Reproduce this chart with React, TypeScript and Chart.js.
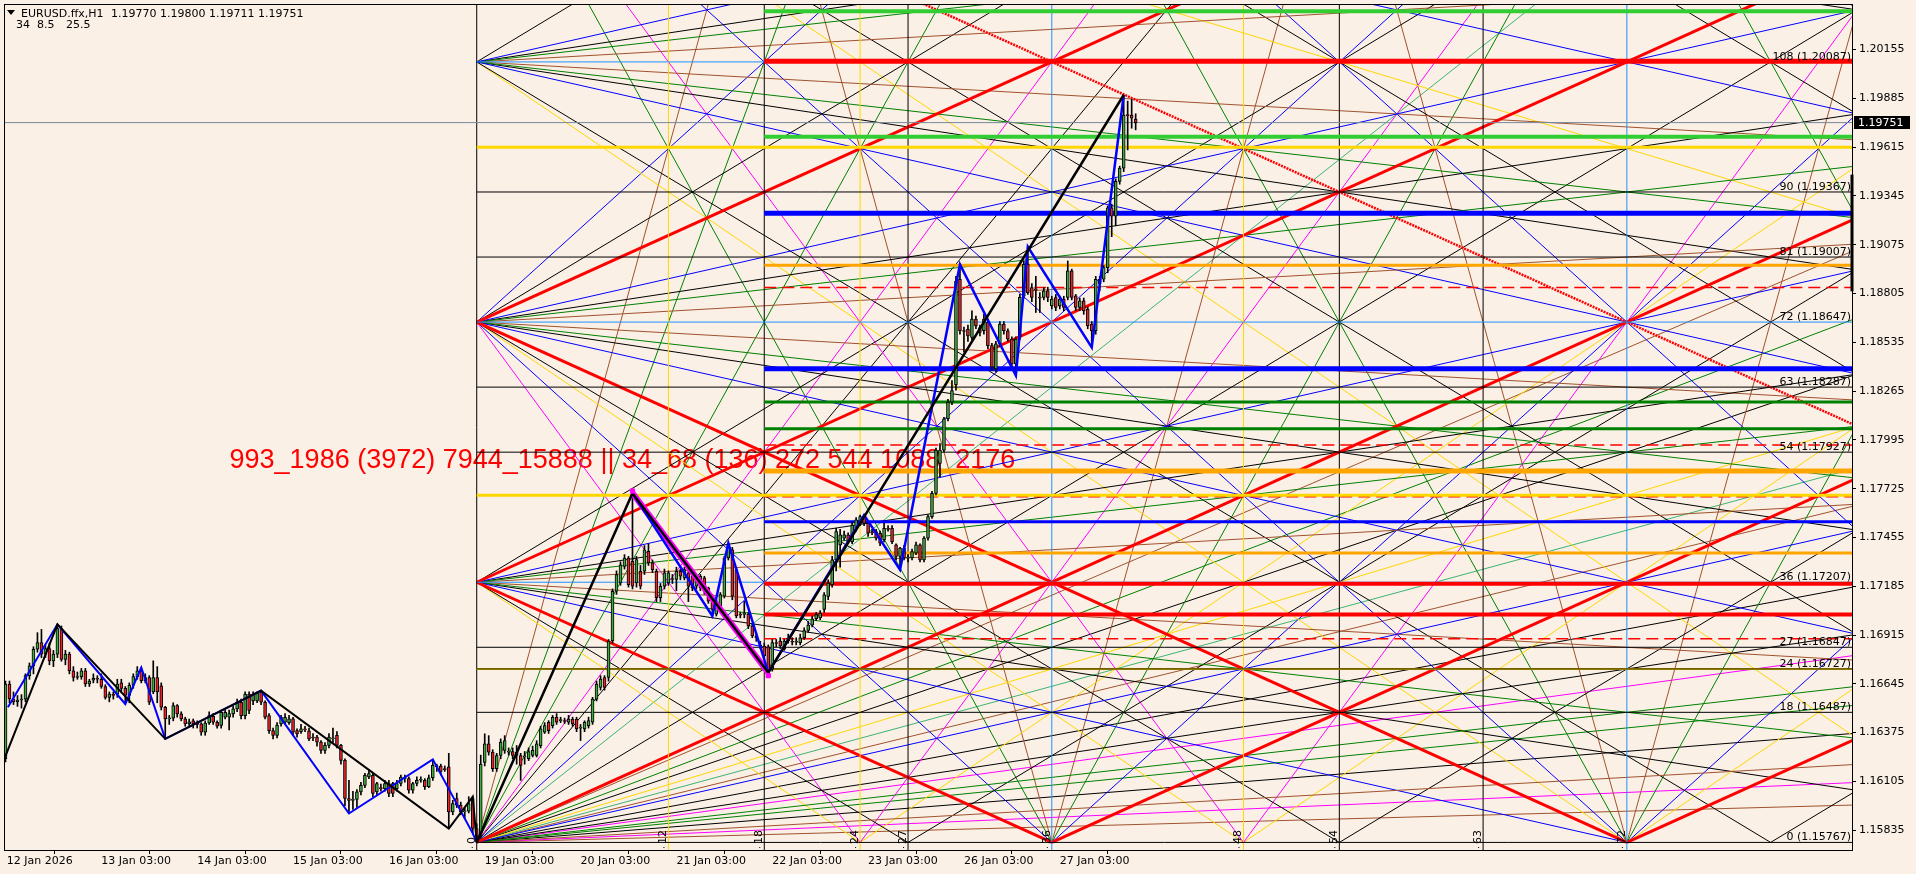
import React, { useEffect, useRef } from "react";
import { Chart, registerables } from "chart.js";
Chart.register(...registerables);

// ---------- candle data (H1 bars, index 0 = first visible bar) ----------
const opens = [1.16230,1.16644,1.16561,1.16545,1.16555,1.16560,1.16690,1.16745,1.16836,1.16873,
1.16809,1.16840,1.16772,1.16809,1.16950,1.16780,1.16809,1.16717,1.16680,1.16685,
1.16717,1.16644,1.16665,1.16675,1.16670,1.16630,1.16570,1.16588,1.16588,1.16650,
1.16620,1.16580,1.16637,1.16685,1.16717,1.16662,1.16680,1.16600,1.16680,1.16634,
1.16515,1.16451,1.16455,1.16524,1.16478,1.16451,1.16423,1.16440,1.16423,1.16423,
1.16377,1.16428,1.16465,1.16432,1.16414,1.16460,1.16460,1.16478,1.16506,1.16543,
1.16469,1.16588,1.16550,1.16550,1.16597,1.16543,1.16469,1.16386,1.16359,1.16423,
1.16432,1.16430,1.16451,1.16386,1.16380,1.16396,1.16385,1.16350,1.16350,1.16322,
1.16276,1.16304,1.16340,1.16360,1.16304,1.16221,1.16010,1.16000,1.16005,1.16047,
1.16083,1.16129,1.16138,1.16047,1.16070,1.16065,1.16093,1.16093,1.16065,1.16093,
1.16120,1.16120,1.16056,1.16093,1.16111,1.16111,1.16075,1.16125,1.16185,1.16190,
1.16175,1.16185,1.15936,1.16010,1.15973,1.15936,1.15940,1.16010,1.15844,1.15800,
1.16210,1.16312,1.16267,1.16175,1.16248,1.16276,1.16267,1.16270,1.16248,1.16248,
1.16240,1.16230,1.16248,1.16248,1.16303,1.16377,1.16432,1.16413,1.16459,1.16441,
1.16441,1.16432,1.16450,1.16450,1.16400,1.16395,1.16413,1.16432,1.16560,1.16625,
1.16680,1.16680,1.16882,1.17157,1.17203,1.17295,1.17341,1.17323,1.17203,1.17268,
1.17268,1.17378,1.17314,1.17268,1.17121,1.17185,1.17203,1.17222,1.17222,1.17268,
1.17231,1.17259,1.17240,1.17185,1.17176,1.17231,1.17176,1.17130,1.17030,1.17075,
1.17130,1.17341,1.17387,1.17277,1.17029,1.17029,1.17029,1.16965,1.16910,1.16860,
1.16854,1.16850,1.16726,1.16873,1.16882,1.16836,1.16882,1.16880,1.16875,1.16873,
1.16900,1.16940,1.16970,1.17005,1.17010,1.17056,1.17129,1.17194,1.17331,1.17414,
1.17451,1.17469,1.17432,1.17506,1.17533,1.17570,1.17533,1.17488,1.17488,1.17478,
1.17442,1.17506,1.17506,1.17414,1.17350,1.17396,1.17341,1.17341,1.17368,1.17414,
1.17331,1.17451,1.17570,1.17699,1.17864,1.17938,1.18112,1.18204,1.18300,1.18884,
1.18599,1.18608,1.18562,1.18663,1.18617,1.18599,1.18645,1.18517,1.18388,1.18526,
1.18636,1.18599,1.18553,1.18416,1.18563,1.18792,1.18966,1.18838,1.18829,1.18783,
1.18783,1.18820,1.18737,1.18783,1.18737,1.18774,1.18783,1.18930,1.18792,1.18728,
1.18765,1.18719,1.18636,1.18599,1.18860,1.18884,1.18948,1.19279,1.19233,1.19426,
1.19499,1.19793,1.19793,1.19770];
const highs = [1.16660,1.16660,1.16600,1.16580,1.16585,1.16700,1.16760,1.16850,1.16928,1.16946,
1.16860,1.16870,1.16830,1.16974,1.16965,1.16830,1.16820,1.16740,1.16710,1.16730,
1.16730,1.16670,1.16700,1.16690,1.16700,1.16640,1.16600,1.16600,1.16670,1.16670,
1.16630,1.16650,1.16700,1.16740,1.16735,1.16700,1.16690,1.16772,1.16740,1.16650,
1.16520,1.16470,1.16540,1.16530,1.16490,1.16460,1.16450,1.16450,1.16440,1.16430,
1.16440,1.16490,1.16480,1.16440,1.16500,1.16500,1.16500,1.16520,1.16560,1.16560,
1.16600,1.16600,1.16600,1.16600,1.16607,1.16550,1.16480,1.16400,1.16430,1.16470,
1.16480,1.16470,1.16460,1.16395,1.16420,1.16410,1.16400,1.16370,1.16360,1.16330,
1.16320,1.16370,1.16400,1.16380,1.16310,1.16230,1.16111,1.16050,1.16060,1.16100,
1.16150,1.16170,1.16150,1.16100,1.16090,1.16110,1.16110,1.16100,1.16110,1.16140,
1.16140,1.16130,1.16100,1.16130,1.16130,1.16120,1.16140,1.16227,1.16200,1.16200,
1.16190,1.16260,1.16000,1.16040,1.15990,1.15960,1.16020,1.16020,1.15870,1.16250,
1.16368,1.16358,1.16280,1.16260,1.16340,1.16358,1.16290,1.16290,1.16303,1.16260,
1.16270,1.16290,1.16300,1.16330,1.16410,1.16430,1.16441,1.16470,1.16480,1.16460,
1.16455,1.16470,1.16460,1.16460,1.16420,1.16440,1.16460,1.16570,1.16660,1.16690,
1.16690,1.16890,1.17170,1.17270,1.17320,1.17360,1.17350,1.17700,1.17350,1.17300,
1.17410,1.17420,1.17330,1.17280,1.17200,1.17280,1.17270,1.17250,1.17290,1.17280,
1.17290,1.17270,1.17250,1.17240,1.17250,1.17240,1.17180,1.17140,1.17110,1.17150,
1.17350,1.17424,1.17400,1.17290,1.17040,1.17102,1.17040,1.16975,1.16930,1.16880,
1.16870,1.16860,1.16890,1.16890,1.16900,1.16890,1.16920,1.16900,1.16900,1.16920,
1.16955,1.16990,1.17020,1.17040,1.17050,1.17150,1.17220,1.17350,1.17506,1.17500,
1.17490,1.17480,1.17540,1.17565,1.17579,1.17579,1.17545,1.17500,1.17500,1.17490,
1.17533,1.17520,1.17520,1.17420,1.17400,1.17410,1.17360,1.17390,1.17430,1.17420,
1.17460,1.17580,1.17710,1.17950,1.17975,1.18120,1.18220,1.18323,1.18900,1.18966,
1.18620,1.18630,1.18709,1.18680,1.18630,1.18690,1.18660,1.18530,1.18540,1.18650,
1.18650,1.18610,1.18565,1.18565,1.18800,1.18985,1.19064,1.18860,1.18900,1.18810,
1.18838,1.18840,1.18790,1.18800,1.18790,1.18790,1.18985,1.18940,1.18800,1.18780,
1.18780,1.18730,1.18650,1.18900,1.18900,1.18960,1.19290,1.19300,1.19440,1.19510,
1.19904,1.19870,1.19880,1.19800];
const lows = [1.16212,1.16540,1.16530,1.16520,1.16510,1.16545,1.16670,1.16700,1.16820,1.16790,
1.16790,1.16750,1.16740,1.16790,1.16770,1.16750,1.16700,1.16660,1.16670,1.16670,
1.16630,1.16630,1.16650,1.16650,1.16620,1.16560,1.16545,1.16560,1.16570,1.16600,
1.16533,1.16540,1.16620,1.16670,1.16650,1.16650,1.16530,1.16590,1.16540,1.16500,
1.16340,1.16420,1.16440,1.16460,1.16440,1.16410,1.16410,1.16400,1.16400,1.16360,
1.16360,1.16420,1.16420,1.16400,1.16400,1.16450,1.16390,1.16460,1.16490,1.16450,
1.16450,1.16480,1.16530,1.16540,1.16530,1.16450,1.16370,1.16340,1.16345,1.16410,
1.16420,1.16420,1.16360,1.16350,1.16370,1.16380,1.16330,1.16330,1.16300,1.16260,
1.16260,1.16290,1.16320,1.16290,1.16200,1.15970,1.15927,1.15950,1.15960,1.16030,
1.16070,1.16120,1.16020,1.16030,1.16050,1.16050,1.16020,1.16020,1.16050,1.16080,
1.16100,1.16040,1.16040,1.16080,1.16100,1.16060,1.16070,1.16110,1.16160,1.16140,
1.16160,1.15844,1.15920,1.15960,1.15920,1.15900,1.15930,1.15817,1.15767,1.15790,
1.16190,1.16250,1.16160,1.16160,1.16230,1.16260,1.16250,1.16230,1.16200,1.16110,
1.16200,1.16220,1.16240,1.16240,1.16290,1.16370,1.16370,1.16400,1.16420,1.16430,
1.16425,1.16420,1.16410,1.16380,1.16331,1.16380,1.16400,1.16420,1.16550,1.16610,
1.16610,1.16660,1.16870,1.17140,1.17190,1.17280,1.17180,1.17170,1.17180,1.17170,
1.17250,1.17300,1.17260,1.17100,1.17100,1.17170,1.17190,1.17200,1.17160,1.17220,
1.17220,1.17100,1.17160,1.17170,1.17160,1.17140,1.17090,1.17020,1.17020,1.17060,
1.17120,1.17330,1.17110,1.17010,1.17010,1.17010,1.16950,1.16900,1.16880,1.16840,
1.16780,1.16707,1.16715,1.16850,1.16840,1.16830,1.16870,1.16860,1.16860,1.16860,
1.16890,1.16930,1.16960,1.16995,1.17000,1.17040,1.17110,1.17180,1.17270,1.17290,
1.17440,1.17420,1.17420,1.17490,1.17520,1.17520,1.17460,1.17470,1.17440,1.17410,
1.17430,1.17490,1.17420,1.17330,1.17276,1.17330,1.17320,1.17330,1.17360,1.17320,
1.17320,1.17440,1.17560,1.17690,1.17790,1.17930,1.18100,1.18190,1.18270,1.18580,
1.18480,1.18540,1.18550,1.18610,1.18570,1.18580,1.18500,1.18380,1.18370,1.18510,
1.18580,1.18540,1.18400,1.18351,1.18550,1.18780,1.18800,1.18760,1.18700,1.18700,
1.18770,1.18760,1.18720,1.18710,1.18720,1.18710,1.18770,1.18770,1.18710,1.18710,
1.18690,1.18610,1.18507,1.18580,1.18820,1.18870,1.18920,1.19120,1.19180,1.19410,
1.19480,1.19600,1.19720,1.19711];
const closes = [1.16644,1.16561,1.16545,1.16555,1.16560,1.16690,1.16745,1.16836,1.16873,1.16809,
1.16840,1.16772,1.16809,1.16950,1.16780,1.16809,1.16717,1.16680,1.16685,1.16717,
1.16644,1.16660,1.16675,1.16670,1.16630,1.16570,1.16588,1.16580,1.16644,1.16620,
1.16580,1.16637,1.16685,1.16717,1.16662,1.16680,1.16543,1.16680,1.16600,1.16515,
1.16451,1.16455,1.16524,1.16478,1.16451,1.16423,1.16435,1.16423,1.16420,1.16377,
1.16428,1.16469,1.16432,1.16410,1.16487,1.16487,1.16480,1.16506,1.16543,1.16469,
1.16588,1.16497,1.16588,1.16592,1.16543,1.16460,1.16386,1.16359,1.16417,1.16460,
1.16460,1.16451,1.16377,1.16368,1.16396,1.16390,1.16340,1.16345,1.16322,1.16276,
1.16304,1.16350,1.16345,1.16304,1.16221,1.16010,1.16000,1.16005,1.16047,1.16083,
1.16138,1.16148,1.16038,1.16093,1.16065,1.16093,1.16038,1.16038,1.16093,1.16129,
1.16125,1.16056,1.16093,1.16111,1.16115,1.16075,1.16125,1.16194,1.16190,1.16160,
1.16170,1.15936,1.15982,1.15973,1.15936,1.15940,1.15982,1.15844,1.15800,1.16200,
1.16312,1.16267,1.16175,1.16248,1.16322,1.16331,1.16270,1.16248,1.16267,1.16193,
1.16245,1.16270,1.16276,1.16312,1.16395,1.16413,1.16386,1.16459,1.16432,1.16445,
1.16436,1.16450,1.16423,1.16395,1.16405,1.16432,1.16441,1.16560,1.16643,1.16671,
1.16625,1.16882,1.17157,1.17249,1.17304,1.17341,1.17194,1.17185,1.17332,1.17185,
1.17387,1.17314,1.17277,1.17121,1.17185,1.17259,1.17259,1.17226,1.17268,1.17240,
1.17277,1.17185,1.17176,1.17222,1.17240,1.17157,1.17102,1.17056,1.17102,1.17139,
1.17341,1.17414,1.17130,1.17020,1.17025,1.17033,1.16965,1.16910,1.16900,1.16854,
1.16799,1.16726,1.16873,1.16868,1.16854,1.16882,1.16900,1.16875,1.16880,1.16900,
1.16940,1.16970,1.17005,1.17028,1.17037,1.17138,1.17203,1.17331,1.17488,1.17469,
1.17469,1.17432,1.17524,1.17552,1.17570,1.17533,1.17478,1.17480,1.17451,1.17423,
1.17506,1.17500,1.17432,1.17350,1.17396,1.17341,1.17345,1.17377,1.17414,1.17331,
1.17451,1.17570,1.17699,1.17938,1.17938,1.18112,1.18204,1.18268,1.18874,1.18599,
1.18595,1.18571,1.18663,1.18626,1.18590,1.18663,1.18516,1.18397,1.18526,1.18636,
1.18599,1.18553,1.18416,1.18553,1.18784,1.18966,1.18810,1.18783,1.18825,1.18780,
1.18820,1.18783,1.18774,1.18728,1.18774,1.18728,1.18930,1.18783,1.18728,1.18765,
1.18709,1.18627,1.18599,1.18884,1.18884,1.18948,1.19279,1.19233,1.19426,1.19499,
1.19793,1.19790,1.19775,1.19751];

// ---------- axes ----------
const dayTickBars = [0.3, 24, 48, 72, 96, 120, 144, 168, 192, 216, 240, 264];
const dayTickLabels = ["12 Jan 2026", "13 Jan 03:00", "14 Jan 03:00", "15 Jan 03:00", "16 Jan 03:00",
  "19 Jan 03:00", "20 Jan 03:00", "21 Jan 03:00", "22 Jan 03:00", "23 Jan 03:00", "26 Jan 03:00", "27 Jan 03:00"];
const priceTicks = [1.15835, 1.16105, 1.16375, 1.16645, 1.16915, 1.17185, 1.17455, 1.17725, 1.17995,
  1.18265, 1.18535, 1.18805, 1.19075, 1.19345, 1.19615, 1.19885, 1.20155];

// ---------- Gann grid definition ----------
const gannOriginBar = 118;
const gannBarsPerUnit = 4;
const gannOriginPrice = 1.15767;
const gannPricePerUnit = 0.0004;
const levelUnits = [0, 18, 24, 27, 36, 54, 63, 72, 81, 90, 108];
const levelColors = ["#000", "#000", "#000", "#000", "#1E90FF", "#000", "#000", "#1E90FF", "#000", "#000", "#1E90FF"];
const timeUnits = [0, 12, 18, 24, 27, 36, 48, 54, 63, 72];
const timeColors = ["#000", "#FFD700", "#000", "#FFD700", "#000", "#1E90FF", "#FFD700", "#000", "#000", "#1E90FF"];

// thick horizontal levels
const hPrices = [1.20367, 1.20090, 1.19673, 1.19614, 1.19249, 1.18961, 1.18839, 1.18388, 1.18204, 1.18057,
  1.17967, 1.17823, 1.17689, 1.17680, 1.17542, 1.17369, 1.17198, 1.17028, 1.16894, 1.16727];
const hColors = ["#32CD32", "#FF0000", "#32CD32", "#FFD700", "#0000FF", "#FFA500", "#FF0000", "#0000FF", "#008000", "#008000",
  "#FF0000", "#FFA500", "#FFD700", "#FF0000", "#0000FF", "#FFA500", "#FF0000", "#FF0000", "#FF0000", "#FFD700"];
const hWidths = [4, 5, 4, 3, 5, 3, 1.5, 5, 3, 3, 1.5, 5, 3, 1.5, 3, 3, 4, 4, 1.5, 2];
const hDashed = [0, 0, 0, 0, 0, 0, 1, 0, 0, 0, 1, 0, 0, 1, 0, 0, 0, 0, 1, 0];
const hStartUnits = [18, 18, 18, 0, 18, 18, 18, 18, 18, 18, 18, 18, 0, 18, 18, 18, 18, 18, 18, 0];

// 1x1 red lines (v = u + c rising, v = c - u falling)
const redRiseOffsets = [72, 36, 0, -36, -72];
const redFallOffsets = [36, 72];
const redDottedFallOffsets = [144];

// shallow fans from the left edge anchors
const shallowAnchors = [0, 36, 72, 108, 144];
const shallowSlopes = [0.5, 0.25, 0.125, 1 / 3];
const shallowColors = ["#0000FF", "#008000", "#A0522D", "#000000"];
const goldShallowSlopes = [2 / 3, -2 / 3];
const goldShallowAnchors = [0, 144];

// steep families through bottom nodes: [slope, spacing, first n, last n]
const steepSlopes = [4 / 3, 3, 1.5, 2, 4, 8];
const steepSpacing = [27, 24, 24, 36, 36, 36];
const steepColors = ["#000000", "#FF00FF", "#FFD700", "#0000FF", "#008000", "#A0522D"];
const steepFirstN = [-8, 0, 1, -8, -8, -8];
const steepLastN = [10, 2, 4, 10, 10, 10];

// extra lines of the origin fan
const originSlopes = [6, 2.667, 1.75, 0.95, 0.84, 0.75, 0.6, 0.54, 0.41, 0.3, 0.22, 0.175, 0.096, 0.06];
const originColors = ["#008000", "#000000", "#3CB371", "#A0522D", "#008000", "#000000", "#3CB371", "#A0522D",
  "#000000", "#FF00FF", "#008000", "#000000", "#FF00FF", "#A0522D"];

// zigzags
const blackZigBars = [-0.6, 13, 40, 64, 111, 117, 118];
const blackZigPrices = [1.16212, 1.16974, 1.16340, 1.16607, 1.15844, 1.16020, 1.15767];
const blueZigBars = [0.6, 13, 30, 34, 40, 64, 86, 107, 117, 118];
const blueZigPrices = [1.16515, 1.16974, 1.16533, 1.16735, 1.16340, 1.16607, 1.15927, 1.16227, 1.15817, 1.15767];
const blackSwingBars = [118, 157, 191, 280];
const blackSwingPrices = [1.15767, 1.17700, 1.16707, 1.19904];
const blueSwingBars = [157, 177, 181, 191, 215, 224, 239, 253, 256, 272, 280];
const blueSwingPrices = [1.17700, 1.17020, 1.17424, 1.16707, 1.17579, 1.17276, 1.18966, 1.18351, 1.19064, 1.18507, 1.19904];

const currentPrice = 1.19751;
const headline = "993_1986 (3972) 7944_15888 || 34_68 (136) 272 544 1088  2176";
const headlineBar = 56.1;
const headlinePrice = 1.17840;
const titleSymbol = "EURUSD.ffx,H1";
const titleQuote = "1.19770 1.19800 1.19711 1.19751";
const subTitle = ["34", "8.5", "25.5"];

const X_MIN = -0.125;
const X_MAX = 462.375;
const Y_MIN = 1.15725;
const Y_MAX = 1.20402;

const toBar = (u: number) => gannOriginBar + gannBarsPerUnit * u;
const toPrice = (v: number) => gannOriginPrice + gannPricePerUnit * v;

function clipped(u0: number, v0: number, s: number) {
  const uLo = 0, uHi = 90, vLo = 0, vHi = 120;
  const ua = u0 + (vLo - v0) / s;
  const ub = u0 + (vHi - v0) / s;
  const a = Math.max(uLo, Math.min(ua, ub));
  const b = Math.min(uHi, Math.max(ua, ub));
  if (b - a < 1e-6) return null;
  return [
    { x: toBar(a), y: toPrice(v0 + s * (a - u0)) },
    { x: toBar(b), y: toPrice(v0 + s * (b - u0)) },
  ];
}

function lineDs(data: any[], color: string, width: number, order: number, extra: any = {}) {
  return {
    type: "line",
    data,
    borderColor: color,
    borderWidth: width,
    pointRadius: 0,
    fill: false,
    tension: 0,
    order,
    borderCapStyle: "butt",
    ...extra,
  };
}

function buildDatasets() {
  const ds: any[] = [];
  // shallow fans
  shallowAnchors.forEach((v0) => {
    shallowSlopes.forEach((s, i) => {
      [1, -1].forEach((sg) => {
        const seg = clipped(0, v0, sg * s);
        if (seg) ds.push(lineDs(seg, shallowColors[i], 1, 30));
      });
    });
  });
  goldShallowAnchors.forEach((v0, i) => {
    const seg = clipped(0, v0, goldShallowSlopes[i]);
    if (seg) ds.push(lineDs(seg, "#FFD700", 1, 30));
  });
  // steep families
  steepSlopes.forEach((s, j) => {
    for (let n = steepFirstN[j]; n <= steepLastN[j]; n++) {
      const u0 = steepSpacing[j] * n;
      const r = clipped(u0, 0, s);
      if (r) ds.push(lineDs(r, steepColors[j], 1, 30));
      const f = clipped(u0, 0, -s);
      if (f) ds.push(lineDs(f, steepColors[j], 1, 30));
    }
  });
  // origin fan
  originSlopes.forEach((s, i) => {
    const seg = clipped(0, 0, s);
    if (seg) ds.push(lineDs(seg, originColors[i], 1, 30));
  });
  // red 1x1
  redRiseOffsets.forEach((c) => {
    const seg = clipped(0, c, 1);
    if (seg) ds.push(lineDs(seg, "#FF0000", 3, 25));
  });
  redFallOffsets.forEach((c) => {
    const seg = clipped(0, c, -1);
    if (seg) ds.push(lineDs(seg, "#FF0000", 3, 25));
  });
  redDottedFallOffsets.forEach((c) => {
    const seg = clipped(0, c, -1);
    if (seg) ds.push(lineDs(seg, "#FF0000", 2.5, 25, { borderDash: [2, 1] }));
  });
  // vertical time lines
  timeUnits.forEach((u, i) => {
    ds.push(lineDs([{ x: toBar(u), y: Y_MIN - 0.01 }, { x: toBar(u), y: Y_MAX + 0.01 }], timeColors[i], 1, 22));
  });
  // level lines
  levelUnits.forEach((u, i) => {
    ds.push(lineDs([{ x: toBar(0), y: toPrice(u) }, { x: X_MAX, y: toPrice(u) }], levelColors[i], 1, 21));
  });
  // thick horizontal lines
  hPrices.forEach((p, i) => {
    ds.push(lineDs([{ x: toBar(hStartUnits[i]), y: p }, { x: X_MAX, y: p }], hColors[i], hWidths[i], 20,
      hDashed[i] ? { borderDash: [12, 6] } : {}));
  });
  ds.push(lineDs([{ x: toBar(0), y: toPrice(24) }, { x: X_MAX, y: toPrice(24) }], "#000", 1, 19));
  ds.push(lineDs([{ x: X_MIN, y: currentPrice }, { x: X_MAX, y: currentPrice }], "#778899", 1, 18));
  ds.push(lineDs([{ x: X_MAX, y: 1.18817 }, { x: X_MAX, y: 1.19463 }], "#000", 3, 18, { clip: false }));

  // candles
  const idx = opens.map((_, i) => i);
  ds.push({
    type: "bar",
    data: idx.map((i) => ({ x: i, y: [lows[i], highs[i]] })),
    backgroundColor: "#000",
    barThickness: 1,
    grouped: false,
    order: 8,
  });
  ds.push({
    type: "bar",
    data: idx.map((i) => ({ x: i, y: [opens[i], closes[i]] })),
    backgroundColor: idx.map((i) => (closes[i] >= opens[i] ? "#3FA83F" : "#E8232A")),
    borderColor: "#000",
    borderWidth: 1,
    borderSkipped: false,
    barThickness: 3,
    minBarLength: 1,
    grouped: false,
    order: 7,
  });

  // zigzags
  ds.push(lineDs(blueZigBars.map((b, i) => ({ x: b, y: blueZigPrices[i] })), "#0000FF", 2, 4));
  ds.push(lineDs(blackZigBars.map((b, i) => ({ x: b, y: blackZigPrices[i] })), "#000", 2, 3));
  ds.push(lineDs(blueSwingBars.map((b, i) => ({ x: b, y: blueSwingPrices[i] })), "#0000FF", 2.5, 4));
  ds.push(lineDs([{ x: blackSwingBars[1], y: blackSwingPrices[1] }, { x: blackSwingBars[2], y: blackSwingPrices[2] }],
    "#FF00FF", 6, 5));
  ds.push(lineDs(blackSwingBars.map((b, i) => ({ x: b, y: blackSwingPrices[i] })), "#000", 2.5, 3));
  ds.push({
    type: "line",
    data: [{ x: 157, y: 1.17712 }, { x: 191, y: 1.16690 }],
    showLine: false,
    pointStyle: "rect",
    pointRadius: 3,
    pointBackgroundColor: "#FF00FF",
    pointBorderColor: "#FF00FF",
    order: 2,
  });
  return ds;
}

const FONT = '"DejaVu Sans", Verdana, sans-serif';

const overlayPlugin = {
  id: "overlay",
  beforeDatasetsDraw(chart: any) {
    const { ctx, chartArea, scales } = chart;
    ctx.save();
    ctx.beginPath();
    ctx.rect(chartArea.left, chartArea.top, chartArea.right - chartArea.left, chartArea.bottom - chartArea.top);
    ctx.clip();
    ctx.font = '27px "Liberation Sans", Arial, sans-serif';
    ctx.fillStyle = "#FF0000";
    ctx.textBaseline = "alphabetic";
    ctx.textAlign = "left";
    ctx.fillText(headline, scales.x.getPixelForValue(headlineBar), scales.y.getPixelForValue(headlinePrice));
    ctx.restore();
  },
  afterDatasetsDraw(chart: any) {
    const { ctx, chartArea, scales } = chart;
    ctx.save();
    ctx.fillStyle = "#000";
    ctx.font = "11px " + FONT;
    ctx.textBaseline = "alphabetic";
    ctx.textAlign = "right";
    levelUnits.forEach((u) => {
      const p = toPrice(u);
      const y = scales.y.getPixelForValue(p);
      ctx.fillText(`${u} (${p.toFixed(5)})`, chartArea.right - 1, y - 2);
    });
    ctx.textAlign = "left";
    timeUnits.forEach((u) => {
      const x = scales.x.getPixelForValue(toBar(u));
      ctx.save();
      ctx.translate(x - 2, chartArea.bottom - 6);
      ctx.rotate(-Math.PI / 2);
      ctx.fillText(String(u), 0, 0);
      ctx.restore();
      ctx.fillRect(x - 5, chartArea.bottom - 3, 1, 1);
    });
    ctx.beginPath();
    ctx.moveTo(7, 10);
    ctx.lineTo(15, 10);
    ctx.lineTo(11, 15);
    ctx.closePath();
    ctx.fill();
    ctx.fillText(titleSymbol, 21, 17);
    ctx.fillText(titleQuote, 111, 17);
    ctx.fillText(subTitle[0], 16, 28);
    ctx.fillText(subTitle[1], 37, 28);
    ctx.fillText(subTitle[2], 66, 28);
    ctx.restore();
  },
  afterDraw(chart: any) {
    const { ctx, chartArea, scales } = chart;
    ctx.save();
    ctx.strokeStyle = "#000";
    ctx.lineWidth = 1;
    ctx.strokeRect(chartArea.left - 0.5, chartArea.top - 0.5, chartArea.right - chartArea.left + 1, chartArea.bottom - chartArea.top + 1);
    const y = scales.y.getPixelForValue(currentPrice);
    ctx.fillStyle = "#000";
    ctx.fillRect(chartArea.right + 2, Math.round(y) - 7, 56, 13);
    ctx.fillStyle = "#FFF";
    ctx.font = "11px " + FONT;
    ctx.textAlign = "left";
    ctx.textBaseline = "middle";
    ctx.fillText(currentPrice.toFixed(5), chartArea.right + 6, Math.round(y));
    ctx.restore();
  },
};

export default function App() {
  const ref = useRef<HTMLCanvasElement | null>(null);
  useEffect(() => {
    document.body.style.margin = "0";
    const canvas = ref.current;
    if (!canvas) return;
    Chart.defaults.font.family = FONT;
    const chart = new Chart(canvas, {
      type: "line",
      data: { datasets: buildDatasets() as any },
      options: {
        animation: false,
        responsive: false,
        maintainAspectRatio: false,
        events: [],
        layout: { padding: { left: 2, top: 3, right: 0, bottom: 0 } },
        plugins: { legend: { display: false }, tooltip: { enabled: false } },
        scales: {
          x: {
            type: "linear",
            min: X_MIN,
            max: X_MAX,
            offset: false,
            afterBuildTicks: (s: any) => { s.ticks = dayTickBars.map((v) => ({ value: v })); },
            afterFit: (s: any) => { s.height = 24; s.paddingLeft = 0; s.paddingRight = 0; },
            ticks: {
              autoSkip: false,
              maxRotation: 0,
              minRotation: 0,
              align: "start",
              color: "#000",
              padding: 1,
              font: { size: 11, family: FONT },
              callback: (_v: any, i: number) => dayTickLabels[i],
            },
            grid: { drawOnChartArea: false, drawTicks: true, tickLength: 4, color: "#000" },
            border: { color: "#000", width: 1 },
          },
          y: {
            type: "linear",
            position: "right",
            min: Y_MIN,
            max: Y_MAX,
            afterBuildTicks: (s: any) => { s.ticks = priceTicks.map((v) => ({ value: v })); },
            afterFit: (s: any) => { s.width = 64; s.paddingTop = 0; s.paddingBottom = 0; },
            ticks: {
              color: "#000",
              padding: 3,
              font: { size: 11, family: FONT },
              callback: (v: any) => Number(v).toFixed(5),
            },
            grid: { drawOnChartArea: false, drawTicks: true, tickLength: 4, color: "#000" },
            border: { color: "#000", width: 1 },
          },
        },
      } as any,
      plugins: [overlayPlugin as any],
    });
    return () => chart.destroy();
  }, []);
  return (
    <div style={{ position: "fixed", left: 0, top: 0, width: 1916, height: 874, background: "#FAF0E6" }}>
      <canvas ref={ref} width={1916} height={874} style={{ width: 1916, height: 874, display: "block" }} />
    </div>
  );
}
